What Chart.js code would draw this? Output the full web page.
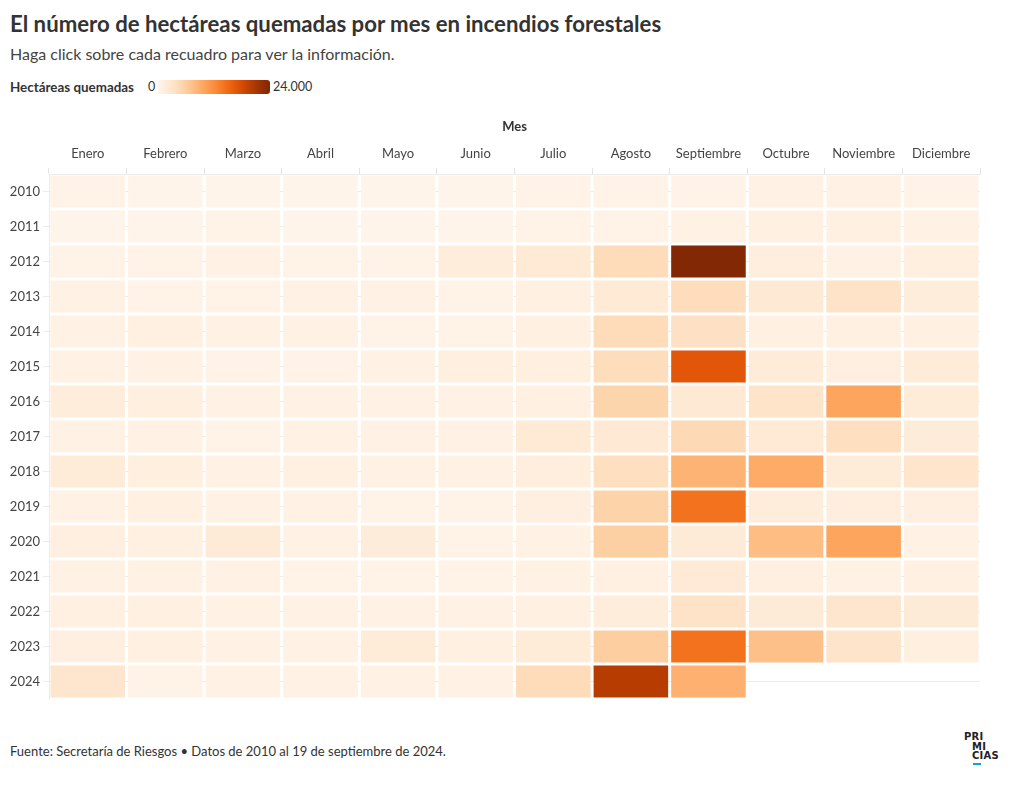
<!DOCTYPE html>
<html lang="es">
<head>
<meta charset="utf-8">
<script src="https://cdn.jsdelivr.net/npm/chart.js@4.4.1/dist/chart.umd.min.js"></script>
<style>
  html, body { margin: 0; padding: 0; background: #fff; }
  body { width: 1020px; height: 792px; position: relative; font-family: Lato, "Open Sans", sans-serif; color: #333; overflow: hidden; }
  #title { position: absolute; left: 10px; top: 8px; font-size: 22.2px; font-weight: 700; line-height: 32px; color: #333; white-space: nowrap; }
  #subtitle { position: absolute; left: 10px; top: 44px; font-size: 16px; line-height: 20px; color: #444; white-space: nowrap; }
  .lg { position: absolute; top: 79px; height: 16px; line-height: 16px; font-size: 12.5px; color: #333; white-space: nowrap; }
  #lgt { left: 10px; font-weight: 700; font-size: 13.4px; }
  #lg0 { left: 148px; }
  #grad { left: 158px; top: 80px; width: 112px; height: 14px; border-radius: 0 3px 3px 0; }
  #lgmax { left: 273px; }
  #chartwrap { position: absolute; left: 0; top: 110px; width: 1000px; height: 600px; }
  #footer { position: absolute; left: 10px; top: 742px; font-size: 13px; line-height: 18px; color: #333; white-space: nowrap; }
  #logo { position: absolute; left: 964px; top: 732px; font-family: "DejaVu Sans", sans-serif; font-weight: 700; font-size: 10px; line-height: 9.5px; color: #222; letter-spacing: 0.2px; }
  #logo div.i { padding-left: 8px; }
  #logo .bar { margin-left: 9px; margin-top: 2px; width: 8px; height: 2px; background: #1a9ed9; }
</style>
</head>
<body>
<div id="title">El número de hectáreas quemadas por mes en incendios forestales</div>
<div id="subtitle">Haga click sobre cada recuadro para ver la información.</div>
<div class="lg" id="lgt">Hectáreas quemadas</div>
<div class="lg" id="lg0">0</div>
<div class="lg" id="grad"></div>
<div class="lg" id="lgmax">24.000</div>
<div id="chartwrap"><canvas id="c" width="1000" height="600"></canvas></div>
<div id="footer">Fuente: Secretaría de Riesgos • Datos de 2010 al 19 de septiembre de 2024.</div>
<div id="logo"><div>PRI</div><div class="i">MI</div><div class="i">CIAS</div><div class="bar"></div></div>
<script>
// ---- Data (hectáreas quemadas por mes) ----
const months = ["Enero","Febrero","Marzo","Abril","Mayo","Junio","Julio","Agosto","Septiembre","Octubre","Noviembre","Diciembre"];
const years = ["2010","2011","2012","2013","2014","2015","2016","2017","2018","2019","2020","2021","2022","2023","2024"];
const ha2010 = [300, 200, 250, 200, 150, 200, 300, 500, 400, 700, 800, 500];
const ha2011 = [200, 200, 300, 200, 200, 250, 350, 500, 600, 900, 900, 700];
const ha2012 = [400, 500, 600, 500, 500, 1500, 2200, 4300, 23800, 1300, 600, 1200];
const ha2013 = [600, 500, 500, 700, 600, 500, 1000, 2200, 4200, 2300, 3300, 1500];
const ha2014 = [800, 1000, 700, 800, 500, 500, 900, 4400, 3600, 1000, 900, 1000];
const ha2015 = [700, 600, 500, 500, 600, 1200, 1200, 4200, 16800, 1800, 1100, 1800];
const ha2016 = [1500, 1200, 700, 600, 600, 800, 1000, 5200, 2300, 3200, 9900, 1800];
const ha2017 = [700, 700, 500, 600, 700, 800, 2200, 2300, 4700, 2200, 3900, 1700];
const ha2018 = [1900, 1200, 800, 900, 600, 700, 1300, 3900, 8600, 9300, 1900, 3000];
const ha2019 = [800, 900, 700, 600, 500, 500, 1100, 5400, 14300, 1500, 1400, 1100];
const ha2020 = [1100, 900, 2000, 800, 1700, 500, 800, 5800, 2000, 7700, 9900, 800];
const ha2021 = [700, 800, 600, 500, 500, 500, 700, 1000, 2100, 1100, 800, 900];
const ha2022 = [900, 900, 600, 700, 700, 600, 900, 1500, 3300, 2000, 2800, 2000];
const ha2023 = [1100, 1000, 700, 800, 1800, 900, 1900, 6000, 14300, 7400, 3100, 1200];
const ha2024 = [2800, 500, 600, 800, 600, 600, 4400, 20000, 8800, null, null, null];
const scaleMax = 24000;
const rows = [ha2010, ha2011, ha2012, ha2013, ha2014, ha2015, ha2016, ha2017, ha2018, ha2019, ha2020, ha2021, ha2022, ha2023, ha2024];

// ---- Colour scale (Oranges, basis interpolation) ----
const stops = ["fff5eb","fee6ce","fdd0a2","fdae6b","fd8d3c","f16913","d94801","a63603","7f2704"]
  .map(h => [parseInt(h.slice(0,2),16), parseInt(h.slice(2,4),16), parseInt(h.slice(4,6),16)]);
function basis(t1, v0, v1, v2, v3) {
  const t2 = t1 * t1, t3 = t2 * t1;
  return ((1 - 3*t1 + 3*t2 - t3) * v0 + (4 - 6*t2 + 3*t3) * v1 + (1 + 3*t1 + 3*t2 - 3*t3) * v2 + t3 * v3) / 6;
}
function channel(vals, t) {
  const n = vals.length - 1;
  let i;
  if (t <= 0) { t = 0; i = 0; } else if (t >= 1) { t = 1; i = n - 1; } else { i = Math.floor(t * n); }
  const v1 = vals[i], v2 = vals[i+1];
  const v0 = i > 0 ? vals[i-1] : 2*v1 - v2;
  const v3 = i < n - 1 ? vals[i+2] : 2*v2 - v1;
  return basis((t - i / n) * n, v0, v1, v2, v3);
}
function oranges(t) {
  const c = [0,1,2].map(k => Math.max(0, Math.min(255, Math.round(channel(stops.map(s => s[k]), t)))));
  return `rgb(${c[0]},${c[1]},${c[2]})`;
}
function colorFor(v) { return oranges(v / scaleMax); }

// legend gradient
const g = [];
for (let i = 0; i <= 20; i++) g.push(oranges(i / 20) + " " + (i * 5) + "%");
document.getElementById("grad").style.background = "linear-gradient(to right, " + g.join(", ") + ")";

// ---- Chart ----
const half = 0.457;
const datasets = rows.map((vals, yi) => ({
  label: years[yi],
  data: vals.map(v => v == null ? null : [yi - half, yi + half]),
  backgroundColor: vals.map(v => v == null ? "rgba(0,0,0,0)" : colorFor(v)),
  borderWidth: 0,
  grouped: false,
  barPercentage: 0.961,
  categoryPercentage: 1.0
}));

const tickFont = { family: "Lato, 'Open Sans', sans-serif", size: 13 };
new Chart(document.getElementById("c"), {
  type: "bar",
  data: { labels: months, datasets },
  options: {
    responsive: false,
    animation: false,
    layout: { padding: { left: 0, right: 20, top: 0, bottom: 11 } },
    plugins: { legend: { display: false }, tooltip: { enabled: false } },
    scales: {
      x: {
        position: "top",
        offset: true,
        grid: { drawOnChartArea: false, tickLength: 6, color: "#e3e3e3" },
        border: { color: "#ebebeb" },
        ticks: { color: "#444", font: tickFont, padding: 6, maxRotation: 0, autoSkip: false },
        title: { display: true, text: "Mes", color: "#333", font: { family: tickFont.family, size: 13, weight: "700" }, padding: { top: 9, bottom: 0 } },
        afterFit: s => { s.height = 64; }
      },
      y: {
        type: "linear",
        reverse: true,
        min: -0.5,
        max: years.length - 0.5,
        afterBuildTicks: s => { s.ticks = years.map((_, i) => ({ value: i })); },
        grid: { drawOnChartArea: true, tickLength: 6, color: "#ececec" },
        border: { color: "#ebebeb" },
        ticks: { color: "#444", font: tickFont, padding: 3, callback: v => years[v] },
        afterFit: s => { s.width = 49; }
      }
    }
  }
});
</script>
</body>
</html>
